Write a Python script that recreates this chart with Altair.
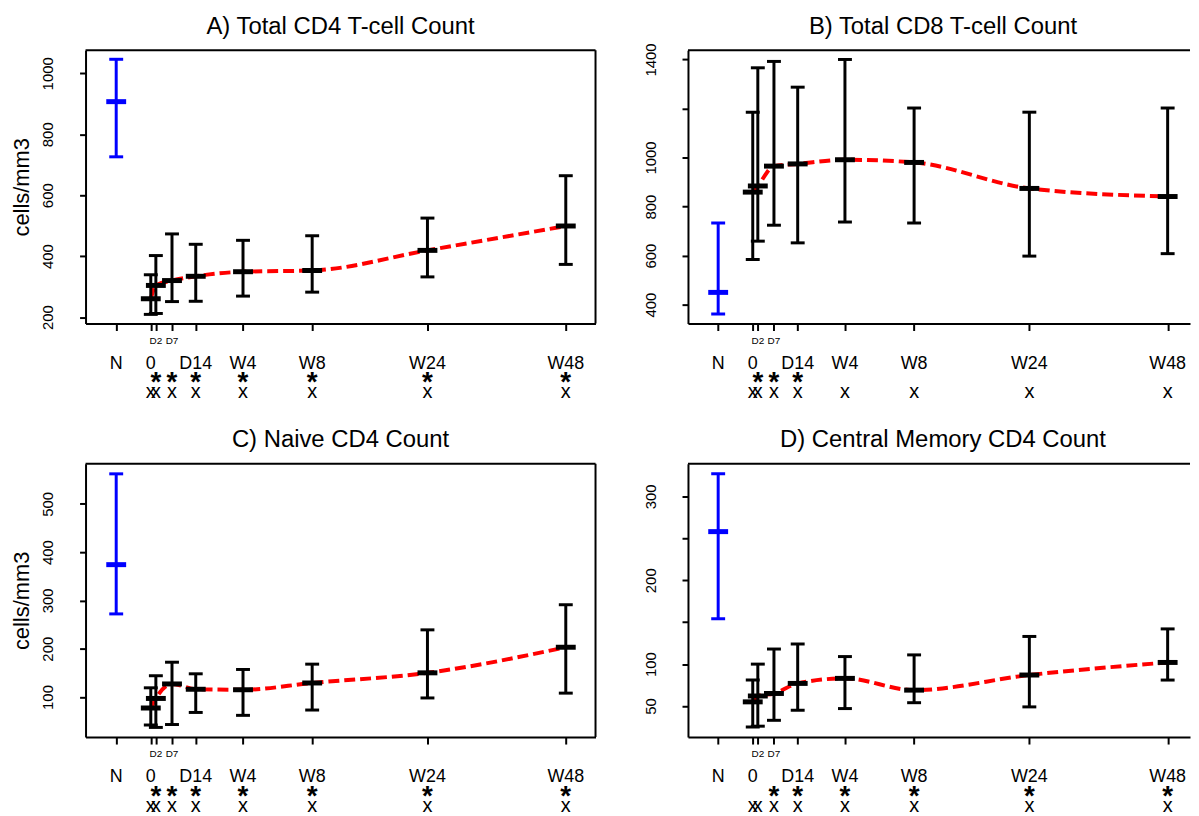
import altair as alt
import pandas as pd

# ---------------- data ----------------
timepoints = ["N", "0", "D2", "D7", "D14", "W4", "W8", "W24", "W48"]
xpos = [-1.5, 0.0, 0.22, 0.92, 1.95, 4.0, 7.0, 12.0, 18.0]
groups = ["N", "T", "T", "T", "T", "T", "T", "T", "T"]
small_labels = ["", "", "D2", "D7", "", "", "", "", ""]
main_labels = ["N", "0", "", "", "D14", "W4", "W8", "W24", "W48"]

a_mean = [907, 260, 304, 320, 334, 349, 353, 419, 499]
a_low = [726, 209, 212, 251, 252, 269, 282, 332, 373]
a_high = [1046, 339, 402, 473, 439, 452, 467, 525, 664]
a_star = ["", "", "*", "*", "*", "*", "*", "*", "*"]
a_x = ["", "x", "x", "x", "x", "x", "x", "x", "x"]

b_mean = [450, 859, 884, 965, 974, 991, 980, 874, 841]
b_low = [362, 584, 659, 724, 652, 737, 733, 598, 608]
b_high = [733, 1185, 1366, 1392, 1287, 1400, 1202, 1185, 1202]
b_star = ["", "", "*", "*", "*", "", "", "", ""]
b_x = ["", "x", "x", "x", "x", "x", "x", "x", "x"]

c_mean = [374, 77, 97, 127, 116, 115, 129, 150, 203]
c_low = [272, 42, 37, 43, 68, 62, 73, 98, 108]
c_high = [562, 119, 144, 172, 148, 157, 168, 239, 291]
c_star = ["", "", "*", "*", "*", "*", "*", "*", "*"]
c_x = ["", "x", "x", "x", "x", "x", "x", "x", "x"]

d_mean = [258, 55, 62, 65, 77, 83, 69, 87, 102]
d_low = [154, 25, 26, 33, 45, 47, 54, 49, 81]
d_high = [327, 81, 100, 118, 124, 109, 111, 133, 142]
d_star = ["", "", "", "*", "*", "*", "*", "*", "*"]
d_x = ["", "x", "x", "x", "x", "x", "x", "x", "x"]

FONT = "Liberation Sans"
H = 275


def panel(title, mean, low, high, star, xm, ydom, yvals, yhide, ytitle,
          width, xdom, right_border, tdx):
    df = pd.DataFrame({
        "tp": timepoints, "xpos": xpos, "mean": mean, "lo": low, "hi": high,
        "grp": groups, "small": small_labels, "main": main_labels,
        "star": star, "xm": xm,
    })
    df_line = df[df["grp"] == "T"]
    one = pd.DataFrame({"k": [0]})

    X = alt.X("xpos:Q",
              scale=alt.Scale(domain=xdom, nice=False, zero=False),
              axis=alt.Axis(values=xpos, labels=False, tickSize=7, tickWidth=2,
                            domainWidth=2, grid=False),
              title=None)

    yaxis_kw = dict(values=yvals, format="d", labelAngle=270, labelAlign="center",
                    labelBaseline="bottom", labelPadding=24, labelFontSize=15,
                    labelFont=FONT, tickSize=6, tickWidth=2, domainWidth=2,
                    grid=False)
    if yhide:
        yaxis_kw["labelExpr"] = " || ".join(
            f"datum.value == {v}" for v in yhide) + " ? '' : datum.label"
    if ytitle:
        yaxis_kw.update(titleFontSize=22, titleFont=FONT, titleFontWeight="normal",
                        titleAngle=270, titleX=-64, titleY=H / 2,
                        titleAlign="center", titleBaseline="middle")
    yscale = alt.Scale(domain=ydom, nice=False, zero=False)

    def Y(field):
        if ytitle:
            return alt.Y(f"{field}:Q", scale=yscale, axis=alt.Axis(**yaxis_kw),
                         title=ytitle)
        return alt.Y(f"{field}:Q", scale=yscale, axis=alt.Axis(**yaxis_kw),
                     title=None)

    color = alt.Color("grp:N",
                      scale=alt.Scale(domain=["N", "T"], range=["#0000FF", "#000000"]),
                      legend=None)

    line = alt.Chart(df_line).mark_line(
        color="#FF0000", strokeDash=[11, 5], strokeWidth=4, interpolate="monotone",
        opacity=1
    ).encode(x=X, y=Y("mean"))

    base = alt.Chart(df)
    bars = base.mark_rule(strokeWidth=3, opacity=1).encode(
        x=X, y=Y("lo"), y2="hi:Q", color=color)
    cap_hi = base.mark_tick(orient="horizontal", size=14, thickness=3, opacity=1).encode(
        x=X, y=Y("hi"), color=color)
    cap_lo = base.mark_tick(orient="horizontal", size=14, thickness=3, opacity=1).encode(
        x=X, y=Y("lo"), color=color)
    means = base.mark_tick(orient="horizontal", size=20, thickness=5, opacity=1).encode(
        x=X, y=Y("mean"), color=color)

    t_small = base.mark_text(font=FONT, fontSize=10, baseline="alphabetic",
                             color="black").encode(
        x=X, y=alt.value(H + 20.5), text="small:N")
    t_main = base.mark_text(font=FONT, fontSize=18, baseline="alphabetic",
                            color="black").encode(
        x=X, y=alt.value(H + 45.5), text="main:N")
    t_star = base.mark_text(font=FONT, fontSize=28, fontWeight="bold",
                            baseline="alphabetic", color="black").encode(
        x=X, y=alt.value(H + 68), text="star:N")
    t_x = base.mark_text(font=FONT, fontSize=20, baseline="alphabetic",
                         color="black").encode(
        x=X, y=alt.value(H + 75), text="xm:N")

    t_title = alt.Chart(one).mark_text(
        text=title, font=FONT, fontSize=24, baseline="alphabetic", align="center",
        color="black"
    ).encode(x=alt.value(width / 2 + tdx), y=alt.value(-16.5))

    top = alt.Chart(one).mark_rule(color="black", strokeWidth=2).encode(
        x=alt.value(0), x2=alt.value(width), y=alt.value(0))
    layers = [line, bars, cap_hi, cap_lo, means, t_small, t_main, t_star, t_x,
              t_title, top]
    if right_border:
        right = alt.Chart(one).mark_rule(color="black", strokeWidth=2).encode(
            x=alt.value(width), y=alt.value(0), y2=alt.value(H))
        layers.append(right)

    return alt.layer(*layers).properties(width=width, height=H)


XL = [-2.83, 19.29]
XR = [-2.81, 18.97]

pa = panel("A) Total CD4 T-cell Count", a_mean, a_low, a_high, a_star, a_x,
           [179, 1076], [200, 400, 600, 800, 1000], [], "cells/mm3",
           513, XL, True, 0)
pb = panel("B) Total CD8 T-cell Count", b_mean, b_low, b_high, b_star, b_x,
           [323, 1438], [400, 600, 800, 1000, 1200, 1400], [1200], None,
           505, XR, False, 4)
pc = panel("C) Naive CD4 Count", c_mean, c_low, c_high, c_star, c_x,
           [17, 583], [100, 200, 300, 400, 500], [], "cells/mm3",
           513, XL, True, 0)
pd_ = panel("D) Central Memory CD4 Count", d_mean, d_low, d_high, d_star, d_x,
            [13, 339], [50, 100, 150, 200, 250, 300], [150, 250], None,
            505, XR, False, 4)

chart = alt.ConcatChart(
    concat=[pa, pb, pc, pd_], columns=2,
    spacing={"row": 141, "column": 93}, bounds="flush",
).properties(
    padding={"left": 3, "top": 4, "right": 0, "bottom": 0},
    background="white",
).configure_view(stroke=None).configure_axis(
    domainColor="black", tickColor="black", labelColor="black", titleColor="black"
)

chart.save("out.html", embed_options={"renderer": "svg", "actions": False})
